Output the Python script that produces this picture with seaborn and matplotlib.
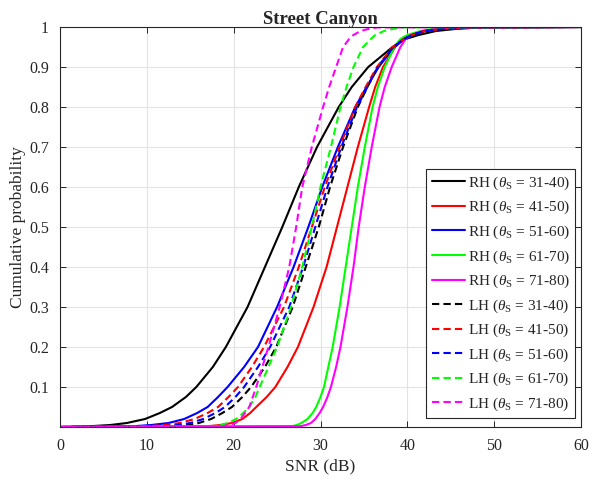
import numpy as np
import pandas as pd
import matplotlib
matplotlib.use("Agg")
import matplotlib.pyplot as plt
import seaborn as sns

# ---- data ----
p_levels = [0, 0.002, 0.005, 0.01, 0.02, 0.035, 0.05, 0.075, 0.1, 0.15, 0.2, 0.3, 0.4, 0.5,
            0.6, 0.7, 0.8, 0.85, 0.9, 0.95, 0.97, 0.98, 0.99, 0.995, 0.999, 1]

rh_31_40 = [0, 3.5, 5.8, 7.7, 9.8, 11.5, 12.9, 14.5, 15.7, 17.6, 19.1, 21.6, 23.6, 25.6, 27.5, 29.6, 32.1, 33.6, 35.5, 38.3, 39.8, 41.3, 43.3, 45.5, 48.5, 60]
rh_41_50 = [0, 17.0, 18.5, 19.8, 21.0, 21.9, 22.6, 23.8, 24.8, 26.2, 27.4, 29.2, 30.7, 31.9, 33.1, 34.3, 35.6, 36.3, 37.2, 38.6, 39.6, 40.5, 42.0, 44.0, 47.5, 60]
rh_51_60 = [0, 8.5, 10.5, 12.5, 14.3, 15.8, 17.0, 18.2, 19.3, 21.2, 22.8, 25.0, 26.9, 28.6, 30.2, 32.0, 34.0, 35.3, 36.7, 38.5, 39.6, 40.6, 42.0, 44.0, 47.0, 60]
rh_61_70 = [0, 26.7, 27.3, 27.8, 28.5, 29.1, 29.5, 30.0, 30.4, 30.9, 31.4, 32.2, 32.9, 33.6, 34.3, 35.1, 36.0, 36.6, 37.4, 38.5, 39.2, 40.0, 41.5, 43.0, 46.0, 60]
rh_71_80 = [0, 27.7, 28.3, 28.9, 29.4, 29.9, 30.3, 30.8, 31.2, 31.8, 32.3, 33.1, 33.8, 34.4, 35.1, 35.9, 36.8, 37.4, 38.2, 39.2, 39.8, 40.5, 41.7, 43.5, 46.0, 60]

lh_31_40 = [0, 13.5, 14.8, 16.0, 17.4, 18.7, 19.8, 21.0, 22.0, 23.6, 24.9, 26.8, 28.3, 29.8, 31.1, 32.6, 34.3, 35.4, 36.6, 38.4, 39.6, 40.5, 42.0, 44.0, 47.0, 60]
lh_41_50 = [0, 10.2, 12.0, 13.8, 15.5, 17.0, 18.2, 19.4, 20.5, 22.1, 23.5, 25.8, 27.5, 29.0, 30.5, 32.2, 34.0, 35.2, 36.5, 38.3, 39.6, 40.5, 42.0, 44.0, 47.0, 60]
lh_51_60 = [0, 12.0, 13.5, 15.0, 16.5, 17.9, 19.0, 20.2, 21.2, 22.8, 24.2, 26.4, 28.0, 29.4, 30.8, 32.4, 34.2, 35.4, 36.6, 38.4, 39.6, 40.5, 42.0, 44.0, 47.0, 60]
lh_61_70 = [0, 17.5, 18.5, 19.3, 20.3, 21.1, 21.8, 22.5, 23.0, 24.0, 25.0, 26.6, 27.9, 29.0, 30.0, 31.2, 32.3, 33.0, 33.8, 34.9, 35.8, 36.3, 37.3, 38.3, 39.5, 60]
lh_71_80 = [0, 18.7, 19.5, 20.2, 20.8, 21.3, 21.8, 22.2, 22.6, 23.3, 24.0, 25.3, 26.4, 27.2, 27.9, 29.0, 30.3, 31.0, 31.8, 32.6, 33.3, 33.8, 34.6, 35.5, 36.5, 60]

ranges = ["31-40", "41-50", "51-60", "61-70", "71-80"]
rh_series = [rh_31_40, rh_41_50, rh_51_60, rh_61_70, rh_71_80]
lh_series = [lh_31_40, lh_41_50, lh_51_60, lh_61_70, lh_71_80]
colors = ["#000000", "#ff0000", "#0000ff", "#00ff00", "#ff00ff"]

x_ticks = [0, 10, 20, 30, 40, 50, 60]
y_ticks = [0.1, 0.2, 0.3, 0.4, 0.5, 0.6, 0.7, 0.8, 0.9, 1]
y_ticklabels = ["0.1", "0.2", "0.3", "0.4", "0.5", "0.6", "0.7", "0.8", "0.9", "1"]

# ---- style ----
sns.set_style("ticks")
plt.rcParams["font.family"] = ["Liberation Serif", "DejaVu Serif"]
plt.rcParams["mathtext.fontset"] = "custom"
plt.rcParams["mathtext.rm"] = "Liberation Serif"
plt.rcParams["mathtext.it"] = "Liberation Serif:italic"

fig = plt.figure(figsize=(6.04, 4.79), dpi=100)
ax = fig.add_axes([60 / 604, 1 - 427 / 479, 521 / 604, 400 / 479])

dash = (3.5, 2.0)
for hand, series_list, ls in (("RH", rh_series, "-"), ("LH", lh_series, "--")):
    for rng, vals, col in zip(ranges, series_list, colors):
        df = pd.DataFrame({"snr": vals, "p": p_levels})
        label = hand + r" ($\theta_\mathrm{S}$ = " + rng + ")"
        sns.lineplot(data=df, x="snr", y="p", ax=ax, color=col, lw=1.5,
                     estimator=None, sort=False, label=label)
        line = ax.get_lines()[-1]
        line.set_solid_joinstyle("round")
        if ls == "--":
            line.set_dashes(dash)

ax.set_xlim(0, 60)
ax.set_ylim(0, 1)
ax.set_xticks(x_ticks)
ax.set_yticks(y_ticks)
ax.set_yticklabels(y_ticklabels)
ax.grid(True, color="#e3e3e3", lw=0.8)
ax.set_axisbelow(True)
for s in ax.spines.values():
    s.set_color("#262626")
    s.set_linewidth(0.8)
    s.set_visible(True)
ax.tick_params(direction="in", top=True, right=True, length=4, width=0.7,
               colors="#262626", labelsize=11.5, pad=8)
ax.set_xlabel("SNR (dB)", fontsize=12.5, color="#262626", labelpad=3)
ax.set_ylabel("Cumulative probability", fontsize=12.5, color="#262626", labelpad=2)
ax.set_title("Street Canyon", fontsize=13.5, fontweight="bold", color="#262626", pad=2)

leg = ax.legend(loc="lower right", bbox_to_anchor=(0.9885, 0.0225), fontsize=11,
                frameon=True, fancybox=False, framealpha=1, edgecolor="#262626",
                handlelength=2.2, handletextpad=0.15, labelspacing=0.47,
                borderpad=0.35, borderaxespad=0.0)
leg.get_frame().set_linewidth(0.8)
for h in leg.get_lines():
    h.set_linewidth(1.5)

fig.savefig("out.png", dpi=100)
